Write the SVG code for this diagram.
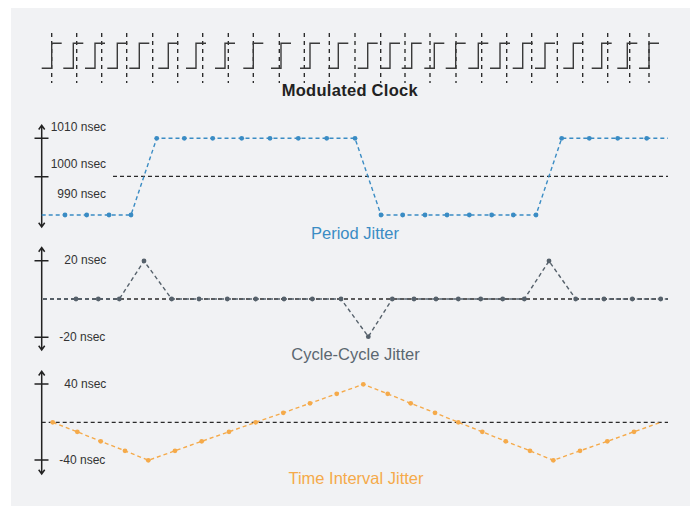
<svg xmlns="http://www.w3.org/2000/svg" width="696" height="514" viewBox="0 0 696 514">
<defs>
<style>
.bg{fill:#f1f2f4}
.clk{fill:none;stroke:#3a3a3a;stroke-width:1.4}
.vref{stroke:#222;stroke-width:1.3;stroke-dasharray:4 4}
.axis{fill:none;stroke:#222;stroke-width:1.5}
.zero{stroke:#2a2a2a;stroke-width:1.3;stroke-dasharray:4 3}
.lbl{font-family:"Liberation Sans",Arial,sans-serif;font-size:12px;fill:#333}
.ttl{font-family:"Liberation Sans",Arial,sans-serif;font-size:16.5px;text-anchor:middle}
.pj{fill:none;stroke:#3a8cc4;stroke-width:1.4;stroke-dasharray:4 3}
.pjd{fill:#3a8cc4}
.cc{fill:none;stroke:#56616b;stroke-width:1.4;stroke-dasharray:4 3}
.ccd{fill:#56616b}
.ti{fill:none;stroke:#f5aa4a;stroke-width:1.4;stroke-dasharray:4 3}
.tid{fill:#f5aa4a}
</style>
</defs>
<rect width="696" height="514" fill="#ffffff"/>
<rect class="bg" x="11" y="8" width="679" height="498"/>

<g id="modulated-clock">
<g id="clock-reference-lines">
<line class="vref" x1="51.7" y1="33" x2="51.7" y2="83"/>
<line class="vref" x1="76.7" y1="33" x2="76.7" y2="83"/>
<line class="vref" x1="101.7" y1="33" x2="101.7" y2="83"/>
<line class="vref" x1="126.7" y1="33" x2="126.7" y2="83"/>
<line class="vref" x1="152.7" y1="33" x2="152.7" y2="83"/>
<line class="vref" x1="177.7" y1="33" x2="177.7" y2="83"/>
<line class="vref" x1="202.7" y1="33" x2="202.7" y2="83"/>
<line class="vref" x1="228.3" y1="33" x2="228.3" y2="83"/>
<line class="vref" x1="253.3" y1="33" x2="253.3" y2="83"/>
<line class="vref" x1="279.3" y1="33" x2="279.3" y2="83"/>
<line class="vref" x1="304.3" y1="33" x2="304.3" y2="83"/>
<line class="vref" x1="329.3" y1="33" x2="329.3" y2="83"/>
<line class="vref" x1="355" y1="33" x2="355" y2="83"/>
<line class="vref" x1="380.7" y1="33" x2="380.7" y2="83"/>
<line class="vref" x1="405" y1="33" x2="405" y2="83"/>
<line class="vref" x1="430" y1="33" x2="430" y2="83"/>
<line class="vref" x1="456" y1="33" x2="456" y2="83"/>
<line class="vref" x1="481.7" y1="33" x2="481.7" y2="83"/>
<line class="vref" x1="506.7" y1="33" x2="506.7" y2="83"/>
<line class="vref" x1="531.7" y1="33" x2="531.7" y2="83"/>
<line class="vref" x1="557.3" y1="33" x2="557.3" y2="83"/>
<line class="vref" x1="582.7" y1="33" x2="582.7" y2="83"/>
<line class="vref" x1="607.7" y1="33" x2="607.7" y2="83"/>
<line class="vref" x1="629.7" y1="33" x2="629.7" y2="83"/>
<line class="vref" x1="649" y1="33" x2="649" y2="83"/>
</g>
<path class="clk" d="M41.7,68.3H51.7V43.3H61.7 M63.3,68.3H73.3V43.3H83.3 M85,68.3H95V43.3H105 M107.3,68.3H117.3V43.3H127.3 M129.3,68.3H139.3V43.3H149.3 M158.3,68.3H168.3V43.3H178.3 M186,68.3H196V43.3H206 M215,68.3H225V43.3H235 M243.3,68.3H253.3V43.3H263.3 M271,68.3H281V43.3H291 M300,68.3H310V43.3H320 M328.3,68.3H338.3V43.3H348.3 M357.7,68.3H367.7V43.3H377.7 M380,68.3H390V43.3H400 M401.7,68.3H411.7V43.3H421.7 M424.3,68.3H434.3V43.3H444.3 M445.7,68.3H455.7V43.3H465.7 M468.3,68.3H478.3V43.3H488.3 M490,68.3H500V43.3H510 M512.7,68.3H522.7V43.3H532.7 M535,68.3H545V43.3H555 M563.3,68.3H573.3V43.3H583.3 M591.7,68.3H601.7V43.3H611.7 M617.3,68.3H627.3V43.3H637.3 M639,68.3H649V43.3H659"/>
<text x="349.7" y="96" class="ttl" style="font-weight:bold;fill:#222" textLength="136" lengthAdjust="spacing">Modulated Clock</text>
</g>

<g id="period-jitter">
<path class="axis" d="M41.7,125.5V226.7 M38.7,129.5L41.7,125.3L44.7,129.5 M38.7,222.7L41.7,226.9L44.7,222.7 M34.5,138.3H48.5 M34.5,176.7H48.5"/>
<text class="lbl" x="50.7" y="130.5">1010 nsec</text>
<text class="lbl" x="50.7" y="168.3">1000 nsec</text>
<text class="lbl" x="57.3" y="198.3">990 nsec</text>
<line class="zero" x1="113" y1="176.3" x2="668" y2="176.3"/>
<path class="pj" d="M41.7,215L65,215L86.7,215L109,215L131,215L156.7,138.3L184.3,138.3L212.7,138.3L241.7,138.3L270,138.3L298.3,138.3L326.7,138.3L355,138.3L381,215L402.7,215L425,215L447,215L469.3,215L491.7,215L513.3,215L536,215L561.7,138.3L589.3,138.3L617.7,138.3L646.7,138.3L668,138.3"/>
<g class="pjd">
<circle cx="65" cy="215" r="2.4"/><circle cx="86.7" cy="215" r="2.4"/><circle cx="109" cy="215" r="2.4"/><circle cx="131" cy="215" r="2.4"/>
<circle cx="156.7" cy="138.3" r="2.4"/><circle cx="184.3" cy="138.3" r="2.4"/><circle cx="212.7" cy="138.3" r="2.4"/><circle cx="241.7" cy="138.3" r="2.4"/><circle cx="270" cy="138.3" r="2.4"/><circle cx="298.3" cy="138.3" r="2.4"/><circle cx="326.7" cy="138.3" r="2.4"/><circle cx="355" cy="138.3" r="2.4"/>
<circle cx="381" cy="215" r="2.4"/><circle cx="402.7" cy="215" r="2.4"/><circle cx="425" cy="215" r="2.4"/><circle cx="447" cy="215" r="2.4"/><circle cx="469.3" cy="215" r="2.4"/><circle cx="491.7" cy="215" r="2.4"/><circle cx="513.3" cy="215" r="2.4"/><circle cx="536" cy="215" r="2.4"/>
<circle cx="561.7" cy="138.3" r="2.4"/><circle cx="589.3" cy="138.3" r="2.4"/><circle cx="617.7" cy="138.3" r="2.4"/><circle cx="646.7" cy="138.3" r="2.4"/>
</g>
<text class="ttl" x="355" y="238.5" style="fill:#3a8cc4">Period Jitter</text>
</g>

<g id="cycle-cycle-jitter">
<path class="axis" d="M41.7,247.8V349.7 M38.7,251.8L41.7,247.6L44.7,251.8 M38.7,345.7L41.7,349.9L44.7,345.7 M34.5,260.7H48.5 M34.5,337.3H48.5"/>
<text class="lbl" x="64.3" y="264">20 nsec</text>
<text class="lbl" x="59.3" y="340.5">-20 nsec</text>
<line class="zero" x1="43" y1="299" x2="668" y2="299"/>
<path class="cc" d="M43,299L76,299L98.3,299L119.3,299L144,261L171.7,299L199,299L227.3,299L255.7,299L284,299L312.3,299L341,299L368.3,336.7L392.3,299L414,299L436,299L458.3,299L480.7,299L502.7,299L524.3,299L549,261L575.7,299L604,299L632.3,299L660.7,299L668,299"/>
<g class="ccd">
<circle cx="76" cy="299" r="2.4"/><circle cx="98.3" cy="299" r="2.4"/><circle cx="119.3" cy="299" r="2.4"/><circle cx="144" cy="261" r="2.4"/><circle cx="171.7" cy="299" r="2.4"/><circle cx="199" cy="299" r="2.4"/><circle cx="227.3" cy="299" r="2.4"/><circle cx="255.7" cy="299" r="2.4"/><circle cx="284" cy="299" r="2.4"/><circle cx="312.3" cy="299" r="2.4"/><circle cx="341" cy="299" r="2.4"/><circle cx="368.3" cy="336.7" r="2.4"/><circle cx="392.3" cy="299" r="2.4"/><circle cx="414" cy="299" r="2.4"/><circle cx="436" cy="299" r="2.4"/><circle cx="458.3" cy="299" r="2.4"/><circle cx="480.7" cy="299" r="2.4"/><circle cx="502.7" cy="299" r="2.4"/><circle cx="524.3" cy="299" r="2.4"/><circle cx="549" cy="261" r="2.4"/><circle cx="575.7" cy="299" r="2.4"/><circle cx="604" cy="299" r="2.4"/><circle cx="632.3" cy="299" r="2.4"/><circle cx="660.7" cy="299" r="2.4"/>
</g>
<text class="ttl" x="355.5" y="359.5" style="fill:#5b6770">Cycle-Cycle Jitter</text>
</g>

<g id="time-interval-jitter">
<path class="axis" d="M41.7,371.5V473.7 M38.7,375.5L41.7,371.3L44.7,375.5 M38.7,469.7L41.7,473.9L44.7,469.7 M34.5,384H48.5 M34.5,460H48.5"/>
<text class="lbl" x="64.3" y="387.7">40 nsec</text>
<text class="lbl" x="59.3" y="464">-40 nsec</text>
<line class="zero" x1="41.7" y1="422.3" x2="668" y2="422.3"/>
<path class="ti" d="M52.7,422.3L77.3,431.8L100.7,441.3L125,450.8L148.3,460.3L175,450.8L201.7,441.3L229,431.8L255.7,422.3L283.3,412.8L310,403.3L336.7,393.8L363.3,384.3L387.7,393.8L410.7,403.3L435,412.8L458.3,422.3L482.3,431.8L505.7,441.3L530,450.8L553.3,460.3L580,450.8L607.3,441.3L634,431.8L660.7,422.3"/>
<g class="tid">
<circle cx="52.7" cy="422.3" r="2.4"/><circle cx="77.3" cy="431.8" r="2.4"/><circle cx="100.7" cy="441.3" r="2.4"/><circle cx="125" cy="450.8" r="2.4"/><circle cx="148.3" cy="460.3" r="2.4"/><circle cx="175" cy="450.8" r="2.4"/><circle cx="201.7" cy="441.3" r="2.4"/><circle cx="229" cy="431.8" r="2.4"/><circle cx="255.7" cy="422.3" r="2.4"/><circle cx="283.3" cy="412.8" r="2.4"/><circle cx="310" cy="403.3" r="2.4"/><circle cx="336.7" cy="393.8" r="2.4"/><circle cx="363.3" cy="384.3" r="2.4"/><circle cx="387.7" cy="393.8" r="2.4"/><circle cx="410.7" cy="403.3" r="2.4"/><circle cx="435" cy="412.8" r="2.4"/><circle cx="458.3" cy="422.3" r="2.4"/><circle cx="482.3" cy="431.8" r="2.4"/><circle cx="505.7" cy="441.3" r="2.4"/><circle cx="530" cy="450.8" r="2.4"/><circle cx="553.3" cy="460.3" r="2.4"/><circle cx="580" cy="450.8" r="2.4"/><circle cx="607.3" cy="441.3" r="2.4"/><circle cx="634" cy="431.8" r="2.4"/>
</g>
<text class="ttl" x="356" y="483.5" style="fill:#f5aa4a">Time Interval Jitter</text>
</g>
</svg>
